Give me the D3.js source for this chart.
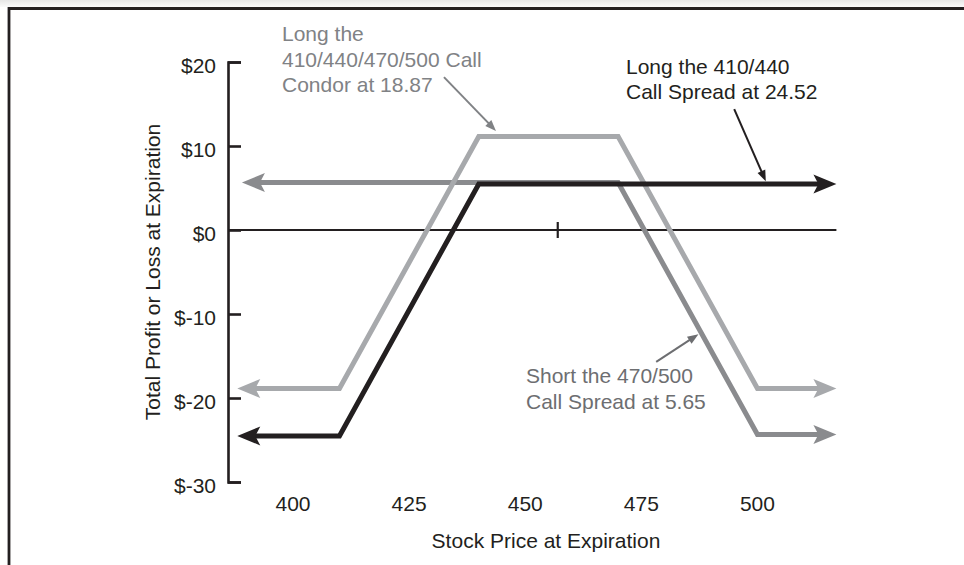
<!DOCTYPE html>
<html>
<head>
<meta charset="utf-8">
<script src="https://cdn.jsdelivr.net/npm/d3@7/dist/d3.min.js"></script>
<style>
  html, body { margin: 0; padding: 0; background: #ffffff; }
  svg { display: block; }
  text { font-family: "Liberation Sans", Arial, Helvetica, sans-serif; }
</style>
</head>
<body>
<svg id="chart" width="964" height="565"></svg>
<script>
// ---------------- data ----------------
const xTicks = [400, 425, 450, 475, 500];
const yTicks = [20, 10, 0, -10, -20, -30];
const yTickLabels = ["$20", "$10", "$0", "$-10", "$-20", "$-30"];
const zeroLineMarker = [457];

// Short the 470/500 call spread at 5.65
const shortSpreadX = [389, 470, 500, 517];
const shortSpreadY = [5.65, 5.65, -24.35, -24.35];
// Long the 410/440/470/500 call condor at 18.87
const condorX = [388, 410, 440, 470, 500, 517];
const condorY = [-18.87, -18.87, 11.13, 11.13, -18.87, -18.87];
// Long the 410/440 call spread at 24.52
const longSpreadX = [388, 410, 440, 517];
const longSpreadY = [-24.52, -24.52, 5.48, 5.48];

const condorLabel = ["Long the", "410/440/470/500 Call", "Condor at 18.87"];
const longLabel = ["Long the 410/440", "Call Spread at 24.52"];
const shortLabel = ["Short the 470/500", "Call Spread at 5.65"];
const xTitle = "Stock Price at Expiration";
const yTitle = "Total Profit or Loss at Expiration";

// ---------------- layout ----------------
const svg = d3.select("#chart");
const W = 964, H = 565;
const C = { black: "#231f20", dark: "#8a8b8e", light: "#a7a9ac",
            condorText: "#808285", shortText: "#6d6e71" };

const x = d3.scaleLinear().domain([386, 517]).range([228, 836.4]);
const y = d3.scaleLinear().domain([-30, 20]).range([482, 62]);

// top shading + frame
const defs = svg.append("defs");
const g1 = defs.append("linearGradient").attr("id", "topfade").attr("x1", 0).attr("y1", 0).attr("x2", 0).attr("y2", 1);
g1.append("stop").attr("offset", "0%").attr("stop-color", "#e6e6e6");
g1.append("stop").attr("offset", "100%").attr("stop-color", "#fafafa");
svg.append("rect").attr("x", 0).attr("y", 0).attr("width", W).attr("height", 7).attr("fill", "url(#topfade)");
svg.append("path")
  .attr("d", `M9,${H} V8.5 H${W}`)
  .attr("fill", "none").attr("stroke", C.black).attr("stroke-width", 2.8);

// y axis ("[" shape with ticks to the right, labels on the left)
const yAxis = d3.axisRight(y).tickValues(yTicks).tickSize(13).tickSizeOuter(13)
  .tickFormat((d, i) => yTickLabels[i]);
const ya = svg.append("g").attr("transform", `translate(${x(386)},0)`).call(yAxis);
ya.select(".domain").attr("stroke", C.black).attr("stroke-width", 2.6);
ya.selectAll(".tick line").attr("stroke", C.black).attr("stroke-width", 2.6);
ya.selectAll(".tick text")
  .attr("x", -12).attr("dy", "0.5em").attr("text-anchor", "end")
  .attr("fill", C.black).attr("font-size", 21)
  .style("font-family", '"Liberation Sans", Arial, Helvetica, sans-serif');

// zero line
svg.append("line")
  .attr("x1", x(386)).attr("x2", x(517)).attr("y1", y(0)).attr("y2", y(0))
  .attr("stroke", C.black).attr("stroke-width", 2.2);
svg.selectAll(".zmark").data(zeroLineMarker).join("line")
  .attr("x1", d => x(d)).attr("x2", d => x(d))
  .attr("y1", y(0) - 8).attr("y2", y(0) + 8)
  .attr("stroke", C.black).attr("stroke-width", 2.2);

// x tick labels
svg.selectAll(".xlab").data(xTicks).join("text")
  .attr("x", d => x(d)).attr("y", 511)
  .attr("text-anchor", "middle").attr("font-size", 21).attr("fill", C.black)
  .text(d => d);

// axis titles
svg.append("text").attr("x", 546).attr("y", 548).attr("text-anchor", "middle")
  .attr("font-size", 21).attr("fill", C.black).text(xTitle);
svg.append("text").attr("transform", "translate(159.5,272) rotate(-90)")
  .attr("text-anchor", "middle").attr("font-size", 21).attr("fill", C.black).text(yTitle);

// ---------------- payoff lines with arrowheads ----------------
const AL = 23, AW = 9.5, NOTCH = 5;
function arrowHead(tipX, tipY, dir) { // dir: +1 right, -1 left
  const bx = tipX - dir * AL;
  return `M${tipX},${tipY} L${bx},${tipY - AW} L${bx + dir * NOTCH},${tipY} L${bx},${tipY + AW} Z`;
}
function drawSeries(xs, ys, color) {
  const pts = xs.map((v, i) => [x(v), y(ys[i])]);
  const n = pts.length;
  // shorten the line ends so they sit inside the arrowheads
  const p = pts.map(d => d.slice());
  p[0][0] += AL - 6;
  p[n - 1][0] -= AL - 6;
  svg.append("path")
    .attr("d", d3.line().curve(d3.curveLinear)(p))
    .attr("fill", "none").attr("stroke", color).attr("stroke-width", 5)
    .attr("stroke-linejoin", "miter");
  svg.append("path").attr("d", arrowHead(pts[0][0], pts[0][1], -1)).attr("fill", color);
  svg.append("path").attr("d", arrowHead(pts[n - 1][0], pts[n - 1][1], 1)).attr("fill", color);
}
drawSeries(shortSpreadX, shortSpreadY, C.dark);
drawSeries(condorX, condorY, C.light);
drawSeries(longSpreadX, longSpreadY, C.black);

// ---------------- annotations ----------------
function pointer(from, to, color) {
  const [x1, y1] = [x(from[0]), y(from[1])];
  const [x2, y2] = [x(to[0]), y(to[1])];
  const ang = Math.atan2(y2 - y1, x2 - x1);
  const L = 11, Wd = 4.2;
  const bx = x2 - L * Math.cos(ang), by = y2 - L * Math.sin(ang);
  svg.append("line").attr("x1", x1).attr("y1", y1)
    .attr("x2", bx + 2 * Math.cos(ang)).attr("y2", by + 2 * Math.sin(ang))
    .attr("stroke", color).attr("stroke-width", 2);
  const px = -Math.sin(ang) * Wd, py = Math.cos(ang) * Wd;
  svg.append("path")
    .attr("d", `M${x2},${y2} L${bx + px},${by + py} L${bx - px},${by - py} Z`)
    .attr("fill", color);
}
function label(lines, x0, y0, lh, color) {
  const t = svg.append("text").attr("font-size", 21).attr("fill", color);
  lines.forEach((s, i) => t.append("tspan").attr("x", x0).attr("y", y0 + i * lh).text(s));
}

label(condorLabel, 282, 41, 25.5, C.condorText);
pointer([432.5, 18.2], [443.7, 11.8], C.condorText);

label(longLabel, 626, 74, 25, C.black);
pointer([495.0, 14.4], [501.8, 5.8], C.black);

label(shortLabel, 526, 383, 26, C.shortText);
pointer([478.2, -15.7], [487.3, -12.4], C.shortText);
</script>
</body>
</html>
